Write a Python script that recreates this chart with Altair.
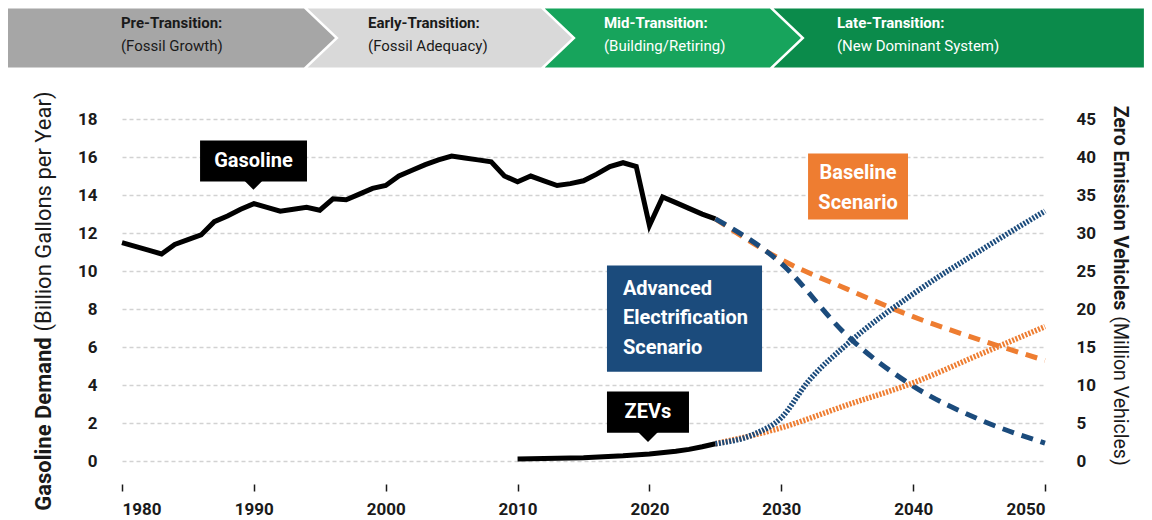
import altair as alt
import pandas as pd

# ---------------- data ----------------
gas_years = list(range(1980, 2026))
gas_values = [11.5, 11.3, 11.1, 10.9, 11.4, 11.65, 11.9, 12.6, 12.9, 13.25,
              13.55, 13.35, 13.15, 13.25, 13.35, 13.2, 13.8, 13.75, 14.05, 14.35,
              14.5, 15.0, 15.3, 15.6, 15.85, 16.05, 15.95, 15.85, 15.75, 15.0,
              14.7, 15.0, 14.75, 14.5, 14.6, 14.75, 15.1, 15.5, 15.7, 15.5,
              12.4, 13.9, 13.6, 13.3, 13.0, 12.75]

scen_years = [2025, 2030, 2035, 2040, 2045, 2050]
baseline_gas = [12.75, 10.6, 9.05, 7.6, 6.4, 5.3]
advanced_gas = [12.75, 10.4, 6.6, 3.95, 2.2, 0.95]

zev_years = [2010, 2015, 2018, 2020, 2022, 2023, 2024, 2025]
zev_values = [0.3, 0.45, 0.7, 0.95, 1.3, 1.55, 1.9, 2.3]

adv_zev_years = [2025, 2028, 2030, 2032, 2035, 2040, 2045, 2050]
adv_zev_values = [2.3, 3.6, 5.7, 10.4, 15.4, 22.0, 27.6, 32.9]
base_zev_years = [2025, 2030, 2035, 2040, 2045, 2050]
base_zev_values = [2.3, 4.4, 7.4, 10.3, 14.0, 17.7]

x_ticks = [1980, 1990, 2000, 2010, 2020, 2030, 2040, 2050]
left_ticks = [0, 2, 4, 6, 8, 10, 12, 14, 16, 18]
right_ticks = [0, 5, 10, 15, 20, 25, 30, 35, 40, 45]

stage_titles = ["Pre-Transition:", "Early-Transition:", "Mid-Transition:", "Late-Transition:"]
stage_subtitles = ["(Fossil Growth)", "(Fossil Adequacy)", "(Building/Retiring)", "(New Dominant System)"]

left_title_bold = "Gasoline Demand"
left_title_rest = "(Billion Gallons per Year)"
right_title_bold = "Zero Emission Vehicles"
right_title_rest = "(Million Vehicles)"

# ---------------- layout / style constants ----------------
FONT = "Roboto"
ORANGE = "#EE7D31"
NAVY = "#1B4B7C"
INK = "#1a1a1a"
stage_fills = ["#A6A6A6", "#D9D9D9", "#17A45C", "#0B8B4B"]
stage_text = [INK, INK, "#ffffff", "#ffffff"]
stage_edges = [1971.355, 1993.8, 2011.78, 2029.14, 2057.5]  # in year units
chev_depth = 2.35
chev_gap = 0.28
band_top, band_mid, band_bot = 23.81, 22.26, 20.71
stage_text_x = [1979.92, 1998.66, 2016.55, 2034.22]
line1_y, line2_y = 23.05, 21.84

W, H = 923, 365
xs = alt.Scale(domain=[1980, 2050], nice=False, zero=False)
ys = alt.Scale(domain=[-1.2, 18], nice=False, zero=False)
zs = alt.Scale(domain=[-3.0, 45], nice=False, zero=False)

# ---------------- tables ----------------
gas_df = pd.DataFrame({"year": gas_years, "value": gas_values})
base_df = pd.DataFrame({"year": scen_years, "value": baseline_gas})
adv_df = pd.DataFrame({"year": scen_years, "value": advanced_gas})
zev_df = pd.DataFrame({"year": zev_years, "value": zev_values})
adv_zev_df = pd.DataFrame({"year": adv_zev_years, "value": adv_zev_values})
base_zev_df = pd.DataFrame({"year": base_zev_years, "value": base_zev_values})

chev_rows = []
for i, name in enumerate(stage_titles):
    L, R = stage_edges[i], stage_edges[i + 1]
    notch = chev_depth if i > 0 else 0
    gap = chev_gap if i > 0 else 0
    point = chev_depth if i < 3 else 0
    for v, k in [(band_top, 0), (band_mid, 1), (band_bot, 0)]:
        chev_rows.append({"stage": name, "v": v, "x": L + gap + notch * k,
                          "x2": R + point * k, "fill": stage_fills[i]})
chev_df = pd.DataFrame(chev_rows)

stage_txt_df = pd.DataFrame({
    "x": stage_text_x, "t1": stage_titles, "t2": stage_subtitles, "col": stage_text,
    "y1": [line1_y] * 4, "y2": [line2_y] * 4,
})


def X(f="year"):
    return alt.X(f"{f}:Q", scale=xs, axis=None)


def Y(f="value"):
    return alt.Y(f"{f}:Q", scale=ys, axis=None)


def Z(f="value"):
    return alt.Y(f"{f}:Q", scale=zs, axis=None)


# ---------------- marks ----------------
chev = alt.Chart(chev_df).mark_area(orient="horizontal", strokeWidth=0).encode(
    y=Y("v"), x=alt.X("x:Q", scale=xs, axis=None, stack=None), x2="x2:Q",
    color=alt.Color("fill:N", scale=None), detail="stage:N")

st1 = alt.Chart(stage_txt_df).mark_text(align="left", baseline="middle", font=FONT,
                                        fontSize=15, fontWeight="bold").encode(
    x=X("x"), y=Y("y1"), text="t1:N", color=alt.Color("col:N", scale=None))
st2 = alt.Chart(stage_txt_df).mark_text(align="left", baseline="middle", font=FONT,
                                        fontSize=15).encode(
    x=X("x"), y=Y("y2"), text="t2:N", color=alt.Color("col:N", scale=None))

gas_line = alt.Chart(gas_df).mark_line(color="black", strokeWidth=5).encode(
    x=alt.X("year:Q", scale=xs, axis=alt.Axis(
        orient="bottom", values=x_ticks, format="d", title=None, domain=False, grid=False,
        tickSize=7, tickColor=INK, tickWidth=1.5, labelFont=FONT, labelFontSize=17,
        labelFontWeight="bold", labelColor=INK, labelPadding=10)),
    y=alt.Y("value:Q", scale=ys, axis=alt.Axis(
        orient="left", values=left_ticks, title=None, domain=False, ticks=False, tickSize=0,
        grid=True, gridDash=[4, 3], gridColor="#d2d2d2", gridWidth=1.5,
        labelFont=FONT, labelFontSize=17, labelFontWeight="bold", labelColor=INK,
        labelPadding=25)),
)

base_line = alt.Chart(base_df).mark_line(color=ORANGE, strokeWidth=5, strokeDash=[12, 8],
                                         interpolate="monotone").encode(x=X(), y=Y())
adv_line = alt.Chart(adv_df).mark_line(color=NAVY, strokeWidth=5, strokeDash=[12, 8],
                                       interpolate="monotone").encode(x=X(), y=Y())

zev_line = alt.Chart(zev_df).mark_line(color="black", strokeWidth=5).encode(
    x=X(),
    y=alt.Y("value:Q", scale=zs, axis=alt.Axis(
        orient="right", values=right_ticks, title=None, domain=False, ticks=False,
        tickSize=0, grid=False, labelFont=FONT, labelFontSize=17, labelFontWeight="bold",
        labelColor=INK, labelPadding=31, labelAlign="left")),
)
zev_base = alt.Chart(base_zev_df).mark_line(color=ORANGE, strokeWidth=5.5, strokeDash=[2, 1.5],
                                            interpolate="monotone").encode(x=X(), y=Z())
zev_adv = alt.Chart(adv_zev_df).mark_line(color=NAVY, strokeWidth=5.5, strokeDash=[2, 1.5],
                                          interpolate="monotone").encode(x=X(), y=Z())

# annotation boxes
boxes_df = pd.DataFrame({
    "x": [1985.92, 2016.78, 2032.03, 2016.78],
    "x2": [1994.03, 2023.0, 2039.61, 2028.54],
    "y": [16.87, 3.66, 16.18, 10.29],
    "y2": [14.71, 1.5, 12.71, 4.71],
    "fill": ["black", "black", ORANGE, NAVY],
})
boxes = alt.Chart(boxes_df).mark_rect().encode(
    x=X("x"), x2="x2:Q", y=Y("y"), y2="y2:Q", color=alt.Color("fill:N", scale=None))

ptr_df = pd.DataFrame({"x": [1989.97, 2019.89], "y": [14.75, 1.54], "s": [324, 400]})
pointers = alt.Chart(ptr_df).mark_point(shape="M-1,0L1,0L0,1Z", filled=True, color="black",
                                        opacity=1, strokeWidth=0).encode(
    x=X("x"), y=Y("y"), size=alt.Size("s:Q", scale=None))

center_lbl_df = pd.DataFrame({
    "x": [1989.97, 2019.89, 2035.82, 2035.82],
    "y": [15.79, 2.58, 15.18, 13.6],
    "t": ["Gasoline", "ZEVs", "Baseline", "Scenario"],
})
center_lbl = alt.Chart(center_lbl_df).mark_text(
    align="center", baseline="middle", font=FONT, fontSize=20, fontWeight="bold",
    color="white").encode(x=X("x"), y=Y("y"), text="t:N")

adv_lbl_df = pd.DataFrame({
    "x": [2017.99] * 3, "y": [9.08, 7.55, 5.97],
    "t": ["Advanced", "Electrification", "Scenario"],
})
adv_lbl = alt.Chart(adv_lbl_df).mark_text(
    align="left", baseline="middle", font=FONT, fontSize=20, fontWeight="bold",
    color="white").encode(x=X("x"), y=Y("y"), text="t:N")

# axis titles as text (mixed weight)
lt_df = pd.DataFrame({"x": [1974.05], "ya": [-2.61], "yb": [6.82],
                      "a": [left_title_bold], "b": [left_title_rest]})
lt_bold = alt.Chart(lt_df).mark_text(angle=270, align="left", baseline="middle", font=FONT,
                                     fontSize=22, fontWeight="bold", color=INK).encode(
    x=X("x"), y=Y("ya"), text="a:N")
lt_rest = alt.Chart(lt_df).mark_text(angle=270, align="left", baseline="middle", font=FONT,
                                     fontSize=22, color=INK).encode(
    x=X("x"), y=Y("yb"), text="b:N")

rt_df = pd.DataFrame({"x": [2055.69], "ya": [18.7], "yb": [7.62],
                      "a": [right_title_bold], "b": [right_title_rest]})
rt_bold = alt.Chart(rt_df).mark_text(angle=90, align="left", baseline="middle", font=FONT,
                                     fontSize=19.5, fontWeight="bold", color=INK).encode(
    x=X("x"), y=Y("ya"), text="a:N")
rt_rest = alt.Chart(rt_df).mark_text(angle=90, align="left", baseline="middle", font=FONT,
                                     fontSize=19.5, color=INK).encode(
    x=X("x"), y=Y("yb"), text="b:N")

chart = alt.layer(
    chev, st1, st2, gas_line, base_line, adv_line, zev_line, zev_base, zev_adv,
    boxes, pointers, center_lbl, adv_lbl, lt_bold, lt_rest, rt_bold, rt_rest
).resolve_scale(y="independent").resolve_axis(x="independent", y="independent").properties(
    width=W, height=H, background="white",
    padding={"left": 0, "top": 0, "right": 0, "bottom": 0},
).configure_view(stroke=None)

chart.save("out.html", embed_options={"renderer": "svg", "actions": False})
